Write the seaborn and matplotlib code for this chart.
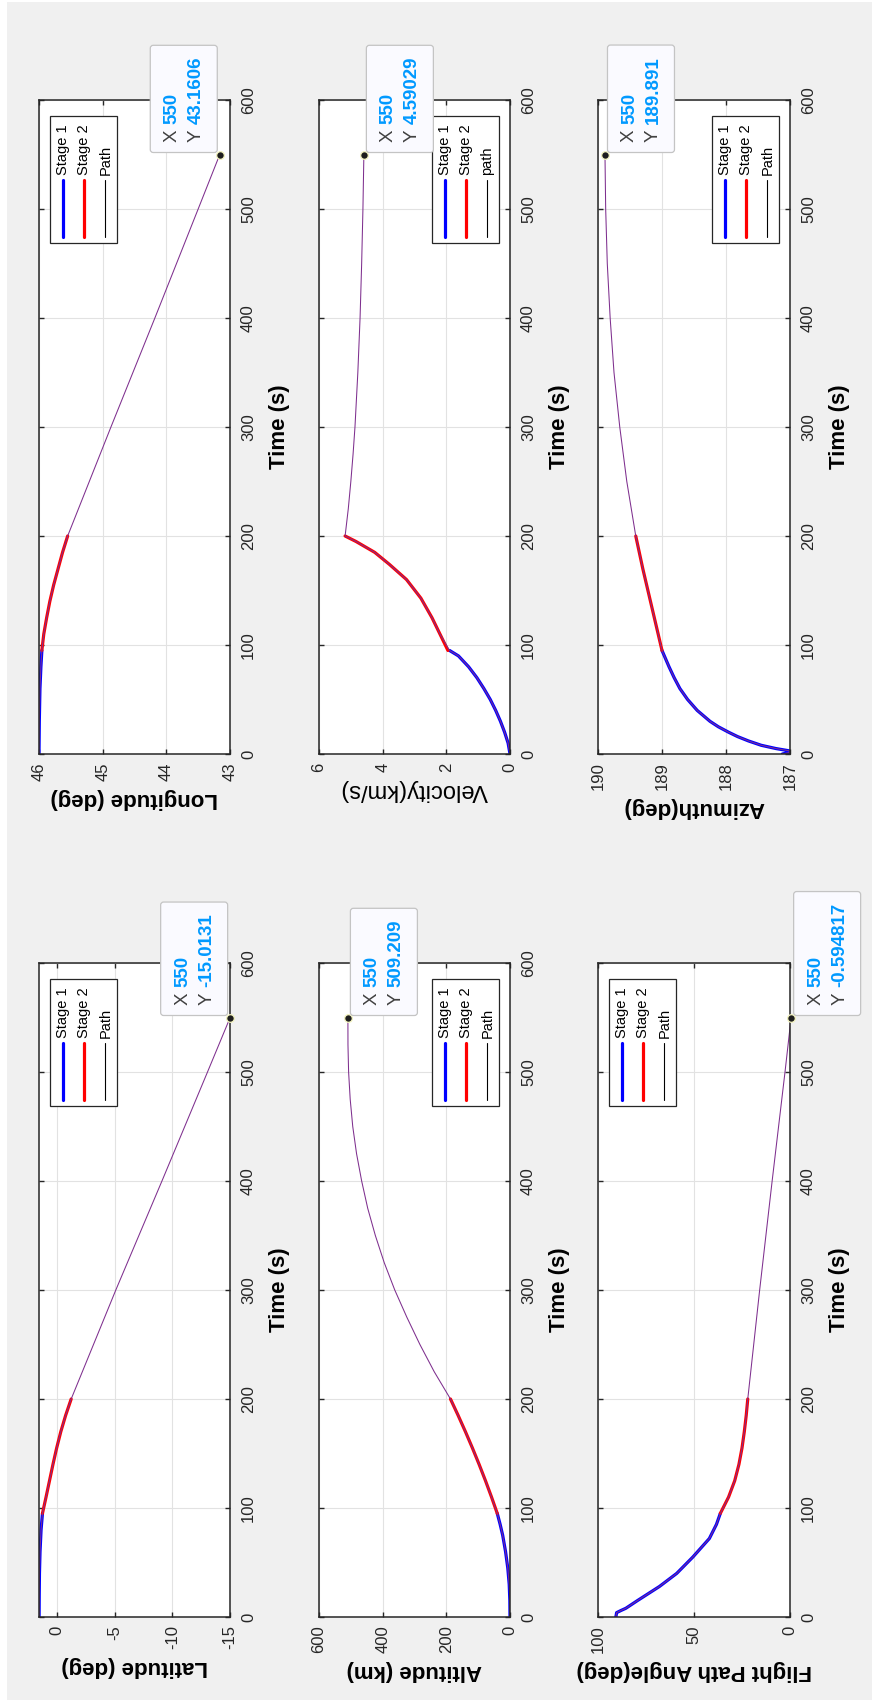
import matplotlib
matplotlib.use("Agg")
import matplotlib.pyplot as plt
from matplotlib.patches import Rectangle, FancyBboxPatch
from matplotlib.lines import Line2D
from matplotlib.transforms import IdentityTransform, Bbox
import seaborn as sns

# ---- values (time in s) ----
# Latitude (deg)
lat_t1 = [0, 20, 40, 60, 80, 95]
lat_v1 = [1.55, 1.54, 1.52, 1.47, 1.38, 1.26]
lat_t2 = [95, 110, 125, 140, 155, 170, 185, 200]
lat_v2 = [1.26, 0.95, 0.65, 0.35, 0.03, -0.33, -0.75, -1.23]
lat_t3 = [200, 300, 400, 500, 550]
lat_v3 = [-1.23, -5.1, -9.1, -13.05, -15.0131]

# Longitude (deg)
lon_t1 = [0, 30, 60, 80, 95]
lon_v1 = [46.0, 45.995, 45.985, 45.97, 45.955]
lon_t2 = [95, 110, 125, 140, 155, 170, 185, 200]
lon_v2 = [45.955, 45.925, 45.88, 45.83, 45.77, 45.70, 45.63, 45.55]
lon_t3 = [200, 300, 400, 500, 550]
lon_v3 = [45.55, 44.87, 44.18, 43.50, 43.1606]

# Altitude (km)
alt_t1 = [0, 15, 30, 45, 60, 75, 85, 95]
alt_v1 = [0, 0.5, 2.5, 7, 14, 23, 31, 40]
alt_t2 = [95, 110, 125, 140, 155, 170, 185, 200]
alt_v2 = [40, 58, 77, 97, 118, 140, 163, 187]
alt_t3 = [200, 225, 250, 275, 300, 325, 350, 375, 400, 425, 450, 475, 500, 525, 550]
alt_v3 = [187, 238, 283, 324, 362, 395, 423, 447, 466, 482, 494, 502, 507, 509, 509.209]

# Velocity (km/s)
vel_t1 = [0, 10, 20, 30, 40, 50, 60, 70, 80, 90, 95]
vel_v1 = [0, 0.06, 0.17, 0.3, 0.45, 0.62, 0.82, 1.04, 1.3, 1.62, 1.9]
vel_t2 = [95, 110, 125, 143, 160, 174, 185, 195, 200]
vel_v2 = [1.95, 2.2, 2.45, 2.8, 3.25, 3.79, 4.25, 4.84, 5.18]
vel_t3 = [200, 225, 250, 275, 300, 350, 400, 450, 500, 550]
vel_v3 = [5.18, 5.08, 5.0, 4.93, 4.87, 4.78, 4.71, 4.66, 4.62, 4.59029]

# Flight path angle (deg)
fpa_t1 = [0, 4, 6, 8, 15, 28, 40, 55, 72, 85, 95]
fpa_v1 = [90.7, 90.3, 88.0, 85.5, 79.5, 68.0, 59.0, 50.6, 42.0, 38.3, 36.3]
fpa_t2 = [95, 110, 125, 140, 155, 170, 185, 200]
fpa_v2 = [36.3, 32.0, 28.8, 26.6, 25.0, 23.8, 22.8, 22.0]
fpa_t3 = [200, 300, 400, 500, 550]
fpa_v3 = [22.0, 15.8, 9.3, 2.6, -0.594817]

# Azimuth (deg)
azi_t1 = [0, 1.5, 3, 5, 8, 12, 16, 20, 25, 30, 40, 50, 60, 70, 80, 95]
azi_v1 = [187.12, 187.0, 187.02, 187.22, 187.45, 187.65, 187.82, 187.96,
          188.12, 188.25, 188.45, 188.6, 188.72, 188.81, 188.89, 189.0]
azi_t2 = [95, 120, 145, 170, 200]
azi_v2 = [189.0, 189.1, 189.2, 189.3, 189.41]
azi_t3 = [200, 250, 300, 350, 400, 450, 500, 550]
azi_v3 = [189.41, 189.55, 189.66, 189.75, 189.81, 189.855, 189.88, 189.891]

time_ticks = [0, 100, 200, 300, 400, 500, 600]
tip_x = 550

panels = [
    # row, col, series, xlim, xticks, label, bold label, legend side, legend names, tip side, tip text
    (0, 0, (lon_t1, lon_v1, lon_t2, lon_v2, lon_t3, lon_v3), (46, 43), [43, 44, 45, 46],
     "Longitude (deg)", True, "left", ["Stage 1", "Stage 2", "Path"], "left", "43.1606"),
    (0, 1, (vel_t1, vel_v1, vel_t2, vel_v2, vel_t3, vel_v3), (6, 0), [0, 2, 4, 6],
     "Velocity(km/s)", False, "right", ["Stage 1", "Stage 2", "path"], "right", "4.59029"),
    (0, 2, (azi_t1, azi_v1, azi_t2, azi_v2, azi_t3, azi_v3), (190, 187), [187, 188, 189, 190],
     "Azimuth(deg)", True, "right", ["Stage 1", "Stage 2", "Path"], "right", "189.891"),
    (1, 0, (lat_t1, lat_v1, lat_t2, lat_v2, lat_t3, lat_v3), (1.56, -15), [-15, -10, -5, 0],
     "Latitude (deg)", True, "left", ["Stage 1", "Stage 2", "Path"], "left", "-15.0131"),
    (1, 1, (alt_t1, alt_v1, alt_t2, alt_v2, alt_t3, alt_v3), (600, 0), [0, 200, 400, 600],
     "Altitude (km)", True, "right", ["Stage 1", "Stage 2", "Path"], "right", "509.209"),
    (1, 2, (fpa_t1, fpa_v1, fpa_t2, fpa_v2, fpa_t3, fpa_v3), (100, 0), [0, 50, 100],
     "Flight Path Angle(deg)", True, "left", ["Stage 1", "Stage 2", "Path"], "right", "-0.594817"),
]

sns.set_theme(style="white")
plt.rcParams["font.family"] = ["Liberation Sans", "DejaVu Sans"]
plt.rcParams["axes.unicode_minus"] = False

W, H = 872, 1704
fig = plt.figure(figsize=(W / 100, H / 100), dpi=100)
fig.patch.set_facecolor("white")
px = IdentityTransform()

# MATLAB grey figure area
fig.add_artist(Rectangle((7, H - 1700), W - 7, 1698, transform=px,
                         fc="#f0f0f0", ec="none", zorder=-10))

cols = [(39, 230), (319, 510), (598, 790)]
rows = [(100, 754), (963, 1617)]
dark = "#262626"
renderer = fig.canvas.get_renderer()

for r, c, s, xlim, xt, label, bold, leg_side, leg_names, tip_side, tip_txt in panels:
    x0, x1 = cols[c]
    y0, y1 = rows[r]
    ax = fig.add_axes([x0 / W, 1 - y1 / H, (x1 - x0) / W, (y1 - y0) / H])
    ax.set_facecolor("white")
    t1, v1, t2, v2, t3, v3 = s

    sns.lineplot(x=v1, y=t1, sort=False, estimator=None, color="#0000ff", lw=2.3, ax=ax)
    sns.lineplot(x=v2, y=t2, sort=False, estimator=None, color="#ff0000", lw=2.3, ax=ax)
    sns.lineplot(x=v1 + v2[1:] + v3[1:], y=t1 + t2[1:] + t3[1:], sort=False,
                 estimator=None, color="#7e2f8e", lw=0.75, ax=ax)
    ax.plot([v3[-1]], [tip_x], "o", ms=5.5, mfc="#1e1e1e", mec="#f4f4c0", mew=0.9,
            clip_on=False, zorder=6)

    ax.set_xlim(xlim)
    ax.set_ylim(0, 600)
    ax.set_xticks(xt)
    ax.set_yticks(time_ticks)
    ax.grid(True, color="#e2e2e2", lw=0.8)
    ax.set_axisbelow(True)
    for sp in ax.spines.values():
        sp.set_color(dark)
        sp.set_linewidth(1.1)
    ax.tick_params(axis="both", direction="in", length=3.6, width=1.0, colors=dark,
                   top=True, bottom=True, left=True, right=True,
                   labelleft=False, labelright=True, labelsize=12, labelrotation=90)
    ax.tick_params(axis="x", pad=6)
    ax.tick_params(axis="y", pad=8)
    plt.setp(ax.get_yticklabels(), va="center")
    if bold:
        ax.set_xlabel(label, rotation=180, fontsize=16, fontweight="bold", color="black", labelpad=5)
    else:
        ax.set_xlabel(label, rotation=180, fontsize=17, fontweight="normal", color="black", labelpad=5)
    ax.yaxis.set_label_position("right")
    ax.set_ylabel("Time (s)", rotation=90, fontsize=16, fontweight="bold", color="black", labelpad=9)

    # legend box drawn by hand (rotated layout)
    bx = x0 + 11 if leg_side == "left" else x1 - 11 - 67
    by = y0 + 16
    fig.add_artist(Rectangle((bx, H - (by + 127)), 67, 127, transform=px,
                             fc="white", ec=dark, lw=0.9, zorder=6))
    styles = [("#0000ff", 2.3), ("#ff0000", 2.3), ("black", 0.8)]
    for i, (name, (colr, lw)) in enumerate(zip(leg_names, styles)):
        cx = bx + 13.3 + 21 * i
        fig.add_artist(Line2D([cx, cx], [H - (by + 64), H - (by + 121)], transform=px,
                              color=colr, lw=lw, zorder=7))
        fig.text(cx, H - (by + 59), name, transform=px, rotation=90, rotation_mode="anchor",
                 ha="left", va="center", fontsize=10.5, color="black", zorder=7)

    # data tip
    dx, dy = ax.transData.transform((v3[-1], tip_x))
    dot_y = H - dy
    bl = dx - 2.5 - 67 if tip_side == "left" else dx + 2.5
    kw = dict(transform=px, rotation=90, rotation_mode="anchor", ha="left",
              va="center", fontsize=13.5, zorder=9)
    fig.text(bl + 22, H - (dot_y - 12.3), "X", color="#404040", **kw)
    fig.text(bl + 46, H - (dot_y - 12.3), "Y", color="#404040", **kw)
    fig.text(bl + 22, H - (dot_y - 30.7), str(tip_x), color="#0099ff", fontweight="bold", **kw)
    vt = fig.text(bl + 46, H - (dot_y - 30.7), tip_txt, color="#0099ff", fontweight="bold", **kw)
    top = H - vt.get_window_extent(renderer).y1 - 11
    bottom = dot_y - 2
    fig.add_artist(FancyBboxPatch((bl, H - bottom), 67, bottom - top,
                                  boxstyle="round,pad=0,rounding_size=3", transform=px,
                                  fc="#fafaff", ec="#c4c4c4", lw=0.9, zorder=8))

    # tick labels hidden under the data tip box are not visible in the original
    tip_box = Bbox.from_extents(bl, H - bottom, bl + 67, H - top)
    for lbl in ax.get_yticklabels():
        if lbl.get_window_extent(renderer).overlaps(tip_box):
            lbl.set_visible(False)

fig.savefig("out.png", dpi=100)
